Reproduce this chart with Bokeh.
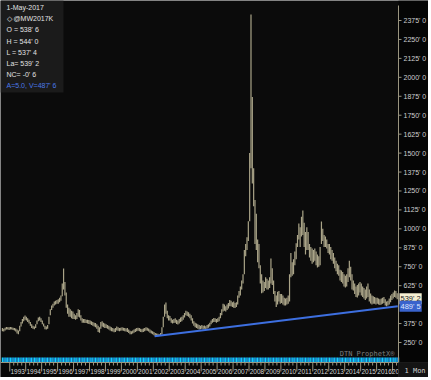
from bokeh.plotting import figure
from bokeh.models import Range1d, Label, BoxAnnotation
from bokeh.embed import file_html
from bokeh.resources import INLINE
from bokeh.core.properties import value

# ---------------- data (monthly high / low, cents per bushel) ----------------
START = 1992.5  # July 1992
HIGHS = [
    345, 340, 348, 352, 350, 350,                                    # 1992 (Jul-Dec)
    352, 350, 348, 345, 342, 335, 330, 360, 385, 405, 420, 428,      # 1993
    420, 410, 400, 385, 370, 360, 355, 370, 395, 415, 420, 410,      # 1994
    395, 375, 360, 355, 365, 420, 470, 495, 505, 520, 525, 530,      # 1995
    535, 545, 560, 640, 738, 650, 580, 500, 480, 470, 460, 455,      # 1996
    440, 430, 445, 470, 465, 430, 410, 405, 405, 400, 400, 398,      # 1997
    395, 390, 385, 380, 378, 370, 360, 350, 385, 390, 380, 375,      # 1998
    370, 365, 360, 355, 350, 345, 340, 345, 355, 350, 345, 348,      # 1999
    350, 348, 345, 342, 345, 335, 328, 325, 330, 335, 340, 345,      # 2000
    348, 345, 340, 338, 342, 345, 350, 348, 342, 335, 330, 325,      # 2001
    320, 312, 310, 308, 305, 312, 350, 420, 500, 514, 460, 430,      # 2002
    425, 410, 400, 405, 410, 400, 395, 405, 415, 420, 430, 445,      # 2003
    460, 455, 450, 440, 430, 410, 390, 380, 375, 370, 365, 360,      # 2004
    365, 360, 362, 358, 365, 370, 380, 395, 405, 412, 410, 405,      # 2005
    410, 420, 445, 470, 505, 500, 490, 500, 510, 530, 525, 515,      # 2006
    520, 510, 515, 560, 590, 620, 660, 700, 860, 900, 945, 1050,     # 2007
    1500, 2415, 1870, 1400, 1190, 1100, 930, 900, 760, 700, 660, 650,  # 2008
    680, 670, 660, 680, 804, 740, 660, 590, 560, 585, 590, 570,      # 2009
    570, 560, 545, 540, 545, 560, 700, 840, 780, 800, 850, 905,      # 2010
    960, 1035, 1010, 1080, 1121, 1040, 980, 1010, 980, 900, 880, 870,  # 2011
    860, 870, 850, 830, 820, 880, 1048, 1000, 960, 950, 930, 900,    # 2012
    900, 880, 860, 840, 811, 790, 770, 760, 730, 725, 715, 700,      # 2013
    690, 700, 740, 790, 750, 700, 660, 640, 620, 630, 640, 650,      # 2014
    640, 620, 610, 600, 620, 640, 600, 573, 560, 555, 550, 545,      # 2015
    545, 540, 535, 540, 545, 550, 535, 520, 525, 540, 560, 570,      # 2016
    580, 593, 590, 575, 544,                                         # 2017
]
LOWS = [
    325, 322, 330, 335, 335, 333,                                    # 1992 (Jul-Dec)
    335, 335, 332, 330, 322, 310, 305, 325, 355, 375, 390, 400,      # 1993
    395, 385, 375, 360, 345, 340, 338, 345, 370, 390, 395, 385,      # 1994
    370, 355, 338, 335, 340, 370, 430, 465, 480, 495, 500, 505,      # 1995
    505, 515, 525, 555, 600, 560, 480, 440, 420, 420, 410, 405,      # 1996
    405, 400, 405, 420, 415, 395, 380, 380, 378, 378, 375, 372,      # 1997
    370, 365, 360, 355, 350, 340, 320, 315, 340, 355, 350, 345,      # 1998
    345, 340, 335, 330, 325, 322, 318, 320, 330, 328, 325, 328,      # 1999
    330, 328, 325, 322, 320, 312, 305, 305, 310, 315, 320, 325,      # 2000
    328, 325, 320, 318, 320, 325, 330, 328, 322, 315, 310, 305,      # 2001
    298, 291, 293, 292, 294, 296, 305, 350, 420, 440, 410, 395,      # 2002
    395, 380, 375, 378, 380, 372, 368, 375, 385, 390, 400, 415,      # 2003
    430, 425, 420, 410, 395, 375, 360, 350, 345, 340, 335, 338,      # 2004
    340, 338, 340, 338, 342, 348, 355, 370, 380, 385, 385, 380,      # 2005
    385, 390, 410, 430, 455, 460, 455, 465, 475, 490, 490, 485,      # 2006
    480, 478, 485, 500, 545, 560, 600, 640, 700, 820, 860, 920,      # 2007
    1050, 1400, 1300, 1150, 900, 860, 780, 740, 640, 575, 580, 590,  # 2008
    610, 600, 600, 610, 640, 630, 570, 520, 485, 500, 520, 505,      # 2009
    510, 500, 495, 494, 500, 505, 520, 680, 690, 700, 760, 800,      # 2010
    880, 930, 880, 950, 960, 880, 830, 860, 860, 811, 790, 770,      # 2011
    780, 790, 760, 745, 750, 760, 900, 920, 880, 880, 870, 840,      # 2012
    830, 800, 790, 770, 740, 720, 700, 690, 660, 650, 640, 620,      # 2013
    613, 620, 650, 680, 660, 600, 593, 570, 550, 547, 560, 580,      # 2014
    560, 550, 540, 530, 540, 550, 520, 507, 500, 505, 505, 500,      # 2015
    505, 500, 498, 500, 505, 510, 495, 490, 494, 500, 515, 530,      # 2016
    540, 550, 545, 535, 537.5,                                       # 2017
]
MONTH_X = [START + i / 12 + 1 / 24 for i in range(len(HIGHS))]

TREND_X = [2002.08, 2017.33]
TREND_Y = [291.0, 489.6]

YEARS = list(range(1993, 2017))
YEAR_TICKS = [y + 0.5 for y in YEARS] + [2017.18]
YEAR_LABELS = [str(y) for y in YEARS] + ["20"]
YEAR_BOUNDS = [float(y) for y in range(1993, 2018)]
QUARTER_TICKS = [y + q / 4 for y in range(1993, 2017) for q in (1, 2, 3)] + [2017.25]

PRICE_TICKS = [250, 375, 625, 750, 875, 1000, 1125, 1250, 1375, 1500,
               1625, 1750, 1875, 2000, 2125, 2250, 2375]
PRICE_LABELS = [f"{v}' 0" for v in PRICE_TICKS]

INFO_LINES = ["1-May-2017", "\u25C7 @MW2017K", "O = 538' 6", "H = 544' 0",
              "L = 537' 4", "La= 539' 2", "NC= -0' 6", "A=5.0, V=487' 6"]
LAST_PRICE, LAST_LABEL = 539.25, "539' 2"
TREND_LAST, TREND_LABEL = 489.625, "489' 5"

# ---------------- layout (pixel geometry of the chart window) ----------------
W, H = 428, 377
PLOT_W, PLOT_H = 398, 362
X_START, PXX = 1992.42, 15.95           # px per year
Y_TOP, PXY = 2507.0, 0.15153            # px per cent
X_END = X_START + W / PXX
Y_BOT = Y_TOP - H / PXY
AXIS_X = X_START + PLOT_W / PXX
AXIS_Y = Y_TOP - PLOT_H / PXY

FONT = "Liberation Sans"
TAN = "#9a9580"

p = figure(frame_width=W, frame_height=H, output_backend="svg", toolbar_location=None,
           x_range=Range1d(X_START, X_END), y_range=Range1d(Y_BOT, Y_TOP),
           x_axis_location=None, y_axis_location=None,
           min_border=0, min_border_left=0, min_border_right=0,
           min_border_top=0, min_border_bottom=0)
p.background_fill_color = "#0b0b0b"
p.border_fill_color = "#0b0b0b"
p.outline_line_color = None
p.grid.visible = False

# axis panels (darker)
p.add_layout(BoxAnnotation(left=AXIS_X, right=X_END, top=Y_TOP, bottom=Y_BOT,
                           fill_color="#050505", fill_alpha=1, line_color=None, level="underlay"))
p.add_layout(BoxAnnotation(left=X_START, right=AXIS_X, top=AXIS_Y, bottom=Y_BOT,
                           fill_color="#070707", fill_alpha=1, line_color=None, level="underlay"))
# info box
p.add_layout(BoxAnnotation(left=X_START, right=X_START + 63 / PXX, top=Y_TOP,
                           bottom=Y_TOP - 92 / PXY, fill_color="#1b1b1b", fill_alpha=1,
                           line_color=None, level="underlay"))

# price bars
p.segment(x0=MONTH_X, y0=LOWS, x1=MONTH_X, y1=HIGHS, line_color="#aaa488", line_width=1.2)

# trend line
p.line(TREND_X, TREND_Y, line_color="#3d6fe0", line_width=2)

# bottom indicator strip
strip_colors = ["#12d8f5" if i % 2 == 0 else "#1a86e6" for i in range(len(MONTH_X))]
p.quad(left=[x - 1 / 24 for x in MONTH_X], right=[x + 1 / 24 for x in MONTH_X],
       bottom=AXIS_Y, top=AXIS_Y + 5 / PXY, fill_color=strip_colors, line_color=None)

# right price axis
p.segment(x0=AXIS_X, y0=AXIS_Y, x1=AXIS_X, y1=Y_TOP - 5 / PXY, line_color=TAN, line_width=1)
p.segment(x0=[AXIS_X] * len(PRICE_TICKS), y0=PRICE_TICKS,
          x1=[AXIS_X + 3 / PXX] * len(PRICE_TICKS), y1=PRICE_TICKS, line_color=TAN)
p.text(x=[AXIS_X + 5 / PXX] * len(PRICE_TICKS), y=PRICE_TICKS, text=PRICE_LABELS,
       text_baseline="middle", text_align="left", text_font=value(FONT),
       text_font_size="7px", text_color="#cfcfcf")

# bottom time axis
p.segment(x0=X_START, y0=AXIS_Y, x1=AXIS_X, y1=AXIS_Y, line_color=TAN, line_width=1)
p.segment(x0=YEAR_BOUNDS, y0=[AXIS_Y] * len(YEAR_BOUNDS), x1=YEAR_BOUNDS,
          y1=[AXIS_Y - 9 / PXY] * len(YEAR_BOUNDS), line_color=TAN)
p.segment(x0=QUARTER_TICKS, y0=[AXIS_Y] * len(QUARTER_TICKS), x1=QUARTER_TICKS,
          y1=[AXIS_Y - 3 / PXY] * len(QUARTER_TICKS), line_color=TAN)
p.text(x=YEAR_TICKS, y=[AXIS_Y - 9 / PXY] * len(YEAR_TICKS), text=YEAR_LABELS,
       text_baseline="middle", text_align="center", text_font=value(FONT),
       text_font_size="6.5px", text_color="#d6d6d6")

# corner
p.add_layout(BoxAnnotation(left=AXIS_X, right=X_END, top=AXIS_Y, bottom=Y_BOT,
                           fill_color="#141414", fill_alpha=1, line_color="#3a3a3a"))
p.add_layout(Label(x=AXIS_X, y=AXIS_Y, x_offset=6, y_offset=-8, text="1 Mon",
                   text_baseline="middle", text_font="DejaVu Sans Mono",
                   text_font_size="7px", text_color="#d0d0d0"))

# info text
for i, t in enumerate(INFO_LINES):
    p.add_layout(Label(x=X_START, y=Y_TOP, x_offset=6, y_offset=-(7 + 11.2 * i), text=t,
                       text_baseline="middle", text_font=FONT, text_font_size="7px",
                       text_color="#4a78e8" if i == len(INFO_LINES) - 1 else "#e2e2e2"))

# watermark
p.add_layout(Label(x=AXIS_X, y=AXIS_Y, x_offset=-4, y_offset=9, text="DTN ProphetX\u00AE",
                   text_align="right", text_baseline="middle", text_font="DejaVu Sans Mono",
                   text_font_size="7px", text_color="#7c7c7c"))

# price boxes on the right axis
p.add_layout(Label(x=AXIS_X, y=LAST_PRICE, x_offset=1, text=LAST_LABEL, text_baseline="middle",
                   text_font=FONT, text_font_size="7.5px", text_color="#222222",
                   background_fill_color="#f6efd2", padding=1))
p.add_layout(Label(x=AXIS_X, y=TREND_LAST, x_offset=1, text=TREND_LABEL, text_baseline="middle",
                   text_font=FONT, text_font_size="7.5px", text_color="#dfe6ff",
                   background_fill_color="#3a63cc", padding=1))

open("out.html", "w").write(file_html(p, INLINE))
